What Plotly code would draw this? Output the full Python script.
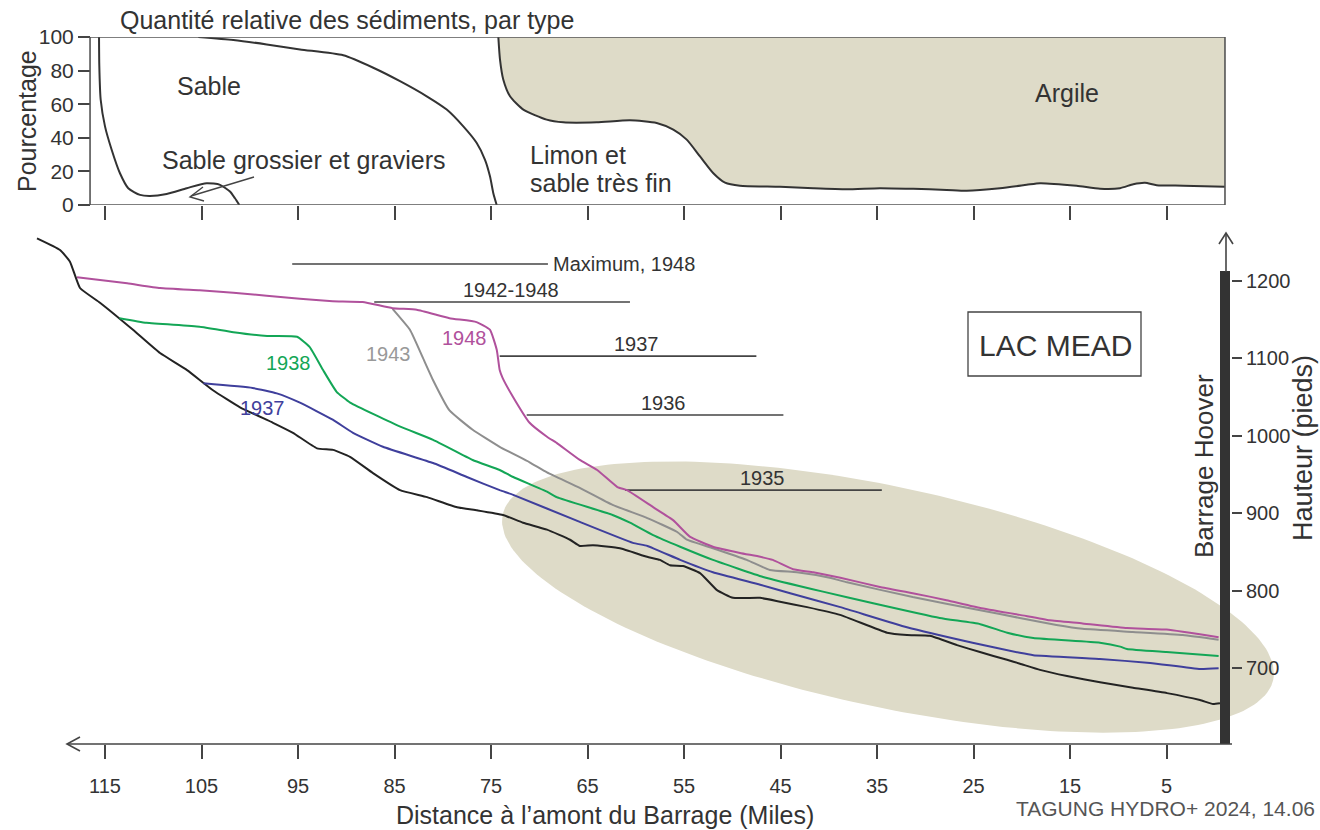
import numpy as np
import plotly.graph_objects as go

W, H = 1320, 830
FONT = "Arial, 'Liberation Sans', Helvetica, sans-serif"
INK = "#333333"
TAN = "#dedbc8"

# ---------------- data: top panel (relative sediment composition, %) ----------------
gravel_mi = [115.62, 115.59, 115.45, 115.0, 114.31, 113.45, 112.59, 111.37, 110.34, 108.61,
             106.53, 104.46, 103.08, 102.05, 101.53, 101.08]
gravel_pct = [100, 82.7, 62.8, 46.8, 32.9, 18.9, 10.0, 6.0, 5.4, 6.6, 10.0, 13.0, 12.0, 8.0, 4.0, 0]

sand_mi = [105.33, 101.70, 98.24, 94.79, 90.31, 87.20, 84.43, 81.66, 79.59, 77.87, 76.48,
           75.62, 75.10, 74.76, 74.41]
sand_pct = [100, 98.2, 95.6, 92.6, 89.1, 81.7, 73.7, 64.7, 56.8, 46.8, 36.9, 26.9, 16.9, 7.0, 0]

clay_mi = [74.24, 74.07, 73.73, 73.03, 71.65, 69.23, 67.51, 64.05, 60.60, 57.83, 56.11, 54.72,
           53.34, 51.96, 50.75, 49.20, 45.05, 41.60, 38.14, 34.69, 31.24, 27.78, 25.70, 22.25,
           19.49, 18.11, 14.31, 11.89, 9.82, 8.44, 7.23, 6.02, 3.26, -1.06]
clay_pct = [100, 86.7, 74.7, 64.7, 56.8, 50.8, 49.2, 49.2, 50.4, 48.8, 44.8, 38.9, 28.9, 18.9,
            13.3, 11.5, 10.9, 10.0, 9.4, 10.0, 9.6, 9.0, 8.5, 10.0, 12.0, 13.0, 11.4, 9.7, 10.0,
            12.4, 13.3, 11.8, 11.5, 10.9]

# ---------------- data: bottom panel (bed profiles, feet vs miles) ----------------
bed1935_mi = [122.05, 119.66, 118.63, 117.59, 115.52, 112.10, 109.30, 106.50, 103.81, 101.01,
              97.59, 95.52, 93.03, 91.37, 89.61, 87.23, 84.43, 81.63, 78.52, 76.45, 73.76, 71.68,
              69.20, 66.81, 65.78, 64.43, 61.63, 58.83, 57.49, 56.45, 55.10, 53.34, 51.58, 49.92,
              47.12, 45.05, 42.25, 38.83, 33.96, 31.89, 29.51, 26.71, 24.33, 21.53, 20.18, 18.11,
              15.31, 11.89, 8.47, 4.95, 1.53, 0.18, -0.54]
bed1935_ft = [1255, 1240, 1225, 1191, 1172, 1137, 1107, 1085, 1059, 1037, 1017, 1004, 984, 982,
              973, 952, 930, 921, 908, 904, 898, 888, 879, 866, 858, 859, 855, 844, 840, 833, 832,
              823, 801, 791, 791, 786, 779, 769, 746, 743, 742, 730, 721, 711, 706, 698, 690, 682,
              675, 668, 659, 654, 655]

bed1937_mi = [104.8, 99.7, 97.2, 94.8, 91.4, 89.3, 86.2, 81.0, 77.5, 74.1, 72.7, 65.8, 60.3,
              58.8, 55.4, 52.0, 47.1, 44.0, 38.8, 31.9, 25.1, 20.2, 18.8, 11.9, 6.7, 1.5, -0.4]
bed1937_ft = [1068, 1062, 1055, 1043, 1021, 1004, 986, 965, 947, 930, 924, 889, 862, 858, 840,
              824, 808, 797, 779, 753, 733, 720, 717, 712, 707, 699, 700]

bed1938_mi = [113.5, 110.7, 105.2, 101.7, 98.2, 95.1, 93.8, 92.4, 91.0, 89.6, 84.4, 81.0, 76.9,
              74.1, 72.7, 69.2, 68.2, 62.4, 60.6, 58.2, 55.4, 52.0, 46.8, 40.6, 35.4, 28.5, 24.3,
              21.5, 18.8, 11.9, 9.8, 9.1, 5.0, -0.4]
bed1938_ft = [1152, 1146, 1141, 1134, 1129, 1128, 1115, 1085, 1057, 1043, 1012, 995, 969, 956,
              947, 928, 921, 898, 888, 872, 857, 840, 818, 799, 784, 765, 757, 746, 739, 733, 728,
              725, 721, 716]

bed1943_mi = [85.2, 83.4, 82.1, 81.0, 79.3, 76.9, 74.1, 71.0, 69.2, 65.8, 62.4, 58.8, 55.7,
              54.7, 52.0, 48.5, 46.1, 43.3, 39.9, 38.1, 31.3, 24.3, 20.2, 16.4, 13.7, 8.5, 3.3, -0.4]
bed1943_ft = [1164, 1137, 1102, 1072, 1033, 1008, 986, 966, 953, 933, 911, 894, 876, 866, 855,
              840, 827, 824, 817, 811, 792, 775, 765, 756, 751, 747, 743, 737]

bed1948_mi = [117.9, 112.7, 109.3, 105.2, 101.7, 94.8, 91.4, 88.3, 85.2, 82.7, 79.3, 76.5, 75.1,
              74.4, 74.1, 73.8, 72.7, 71.0, 69.2, 68.2, 65.8, 64.0, 61.9, 60.9, 58.2, 56.1, 54.4,
              52.0, 49.2, 47.1, 45.8, 43.7, 41.6, 38.8, 34.7, 31.3, 27.8, 24.3, 20.2, 17.1, 13.7,
              9.1, 5.0, -0.4]
bed1948_ft = [1205, 1197, 1191, 1188, 1185, 1177, 1174, 1173, 1165, 1163, 1152, 1147, 1137, 1111,
              1085, 1075, 1050, 1017, 999, 991, 969, 956, 934, 930, 908, 891, 870, 857, 849, 844,
              840, 828, 824, 817, 805, 797, 788, 778, 769, 762, 758, 752, 750, 740]

series_years = ["1935", "1937", "1938", "1943", "1948"]
series_colors = ["#232323", "#3f3f9c", "#13a656", "#8e8e8e", "#b0519c"]
series_mi = [bed1935_mi, bed1937_mi, bed1938_mi, bed1943_mi, bed1948_mi]
series_ft = [bed1935_ft, bed1937_ft, bed1938_ft, bed1943_ft, bed1948_ft]

# year labels on the curves (miles, feet)
year_label_text = ["1937", "1938", "1943", "1948"]
year_label_mi = [98.7, 96.0, 85.6, 77.7]
year_label_ft = [1036, 1094, 1106, 1126]
year_label_color = ["#3f3f9c", "#13a656", "#999999", "#b0519c"]

# reservoir level marks
level_text = ["Maximum, 1948", "1942-1948", "1937", "1936", "1935"]
level_ft = [1222, 1173, 1103, 1027, 930]
level_from_mi = [95.6, 87.1, 74.1, 71.3, 61.1]
level_to_mi = [69.1, 60.6, 47.5, 44.7, 34.5]

mile_ticks = [115, 105, 95, 85, 75, 65, 55, 45, 35, 25, 15, 5]
pct_ticks = [0, 20, 40, 60, 80, 100]
ft_ticks = [700, 800, 900, 1000, 1100, 1200]

# ---------------- layout geometry ----------------
XR = [125.881, -10.907]            # full-width mile axis (reversed)
TOP_DOM = [1 - 205 / H, 1 - 37 / H]
BOT_DOM = [1 - 744 / H, 1 - 232 / H]
Y2R = [602.3, 1263.3]
PANEL_MI = [116.55, -1.06]          # top panel box extent


def px_to_mi(p):
    return XR[0] - p / W * (XR[0] - XR[1])


def mi_to_px(m):
    return (XR[0] - m) / (XR[0] - XR[1]) * W


def ft_to_py(h):
    return 744 - (h - Y2R[0]) / (Y2R[1] - Y2R[0]) * (744 - 232)


def py_to_ft(p):
    return Y2R[0] + (744 - p) / (744 - 232) * (Y2R[1] - Y2R[0])


def P(x, y):
    return f"{x / W:.5f},{1 - y / H:.5f}"


fig = go.Figure()

# ---- top panel ----
fig.add_trace(go.Scatter(
    x=clay_mi + [PANEL_MI[1]], y=clay_pct + [100], mode="lines", fill="toself",
    fillcolor=TAN, line=dict(width=0), xaxis="x", yaxis="y", showlegend=False,
    hoverinfo="skip"))
for xs, ys in [(gravel_mi, gravel_pct), (sand_mi, sand_pct), (clay_mi, clay_pct)]:
    fig.add_trace(go.Scatter(x=xs, y=ys, mode="lines",
                             line=dict(color=INK, width=2, shape="spline", smoothing=0.6),
                             xaxis="x", yaxis="y", showlegend=False))

# ---- bottom panel: tan ellipse ----
cxp, cyp = mi_to_px(33.86), ft_to_py(792)
a_px, b_px, tilt = 394, 110, np.deg2rad(12.1)
t = np.linspace(0, 2 * np.pi, 240)
ex = cxp + a_px * np.cos(t) * np.cos(tilt) - b_px * np.sin(t) * np.sin(tilt)
ey = cyp + a_px * np.cos(t) * np.sin(tilt) + b_px * np.sin(t) * np.cos(tilt)
fig.add_trace(go.Scatter(x=[px_to_mi(v) for v in ex], y=[py_to_ft(v) for v in ey],
                         mode="lines", fill="toself", fillcolor=TAN, line=dict(width=0),
                         xaxis="x2", yaxis="y2", showlegend=False, hoverinfo="skip"))

# level lines
for txt, h, m0, m1 in zip(level_text, level_ft, level_from_mi, level_to_mi):
    fig.add_trace(go.Scatter(x=[m0, m1], y=[h, h], mode="lines",
                             line=dict(color="#444444", width=1.6),
                             xaxis="x2", yaxis="y2", showlegend=False))

# bed profiles
for yr, col, xs, ys in zip(series_years, series_colors, series_mi, series_ft):
    fig.add_trace(go.Scatter(x=xs, y=ys, mode="lines", name=yr,
                             line=dict(color=col, width=2, shape="spline", smoothing=0.4),
                             xaxis="x2", yaxis="y2", showlegend=False))

ann = []
for txt, h, m0, m1 in zip(level_text, level_ft, level_from_mi, level_to_mi):
    if txt.startswith("Maximum"):
        ann.append(dict(x=m1, y=h, xref="x2", yref="y2", text=txt, showarrow=False,
                        xanchor="left", yanchor="middle", xshift=3,
                        font=dict(size=20, color=INK, family=FONT)))
    else:
        ann.append(dict(x=(m0 + m1) / 2 - 0.9, y=h, xref="x2", yref="y2", text=txt,
                        showarrow=False, xanchor="center", yanchor="middle", yshift=12,
                        font=dict(size=20, color=INK, family=FONT)))

for txt, m, h, col in zip(year_label_text, year_label_mi, year_label_ft, year_label_color):
    ann.append(dict(x=m, y=h, xref="x2", yref="y2", text=txt, showarrow=False,
                    xanchor="center", yanchor="middle",
                    font=dict(size=20, color=col, family=FONT)))


def text_px(x, y, s, size, xanchor="center", angle=0, color=INK):
    ann.append(dict(x=x / W, y=1 - y / H, xref="paper", yref="paper", text=s,
                    showarrow=False, xanchor=xanchor, yanchor="middle", textangle=angle,
                    font=dict(size=size, color=color, family=FONT)))


text_px(118, 20, "Quantité relative des sédiments, par type", 25, xanchor="left")
text_px(209, 86, "Sable", 25)
text_px(303, 160, "Sable grossier et graviers", 25)
text_px(528, 155, "Limon et", 25, xanchor="left")
text_px(528, 183, "sable très fin", 25, xanchor="left")
text_px(1067, 93, "Argile", 25)
text_px(27, 121, "Pourcentage", 25, angle=-90)
text_px(1055, 345, "LAC MEAD", 30)
text_px(1204, 466, "Barrage Hoover", 26, angle=-90)
text_px(1303, 448, "Hauteur (pieds)", 27, angle=-90)
text_px(605, 815, "Distance à l’amont du Barrage (Miles)", 25)
text_px(1317, 808, "TAGUNG HYDRO+ 2024, 14.06", 21, xanchor="right", color="#555555")

LINE = dict(color="#444444", width=1.6)
shapes = [
    # top panel frame
    dict(type="rect", xref="x", yref="y", x0=PANEL_MI[0], x1=PANEL_MI[1], y0=0, y1=100,
         line=dict(color="#555555", width=1.6)),
    # Hoover dam bar
    dict(type="rect", xref="x2", yref="y2", x0=px_to_mi(1220), x1=px_to_mi(1230),
         y0=Y2R[0], y1=py_to_ft(271), fillcolor="#333333", line=dict(width=0)),
    # bottom axis with arrow
    dict(type="line", xref="paper", yref="paper", x0=67 / W, x1=1232 / W,
         y0=1 - 744 / H, y1=1 - 744 / H, line=LINE),
    dict(type="path", xref="paper", yref="paper",
         path=f"M{P(80, 737)} L{P(67, 744)} L{P(80, 751)}", line=LINE),
    # vertical arrow above the dam
    dict(type="line", xref="paper", yref="paper", x0=1226 / W, x1=1226 / W,
         y0=1 - 272 / H, y1=1 - 233 / H, line=LINE),
    dict(type="path", xref="paper", yref="paper",
         path=f"M{P(1219, 244)} L{P(1226, 233)} L{P(1233, 244)}", line=LINE),
    # gravel pointer arrow
    dict(type="line", xref="paper", yref="paper", x0=254 / W, x1=191 / W,
         y0=1 - 177 / H, y1=1 - 196 / H, line=dict(color="#444444", width=1.4)),
    dict(type="path", xref="paper", yref="paper",
         path=f"M{P(203, 187)} L{P(190, 197)} L{P(204, 201)}",
         line=dict(color="#444444", width=1.4)),
    # LAC MEAD box
    dict(type="rect", xref="paper", yref="paper", x0=968 / W, x1=1141 / W,
         y0=1 - 376 / H, y1=1 - 312 / H, line=dict(color="#444444", width=1.3)),
]

axis_common = dict(showgrid=False, zeroline=False, showline=False, automargin=False,
                   tickcolor="#444444", tickwidth=1.6)

fig.update_layout(
    template="none",
    width=W, height=H,
    margin=dict(l=0, r=0, t=0, b=0),
    paper_bgcolor="white", plot_bgcolor="rgba(0,0,0,0)",
    showlegend=False,
    font=dict(family=FONT, color=INK),
    xaxis=dict(domain=[0, 1], range=XR, anchor="y", ticks="outside", ticklen=14,
               tickmode="array", tickvals=mile_ticks, showticklabels=False, **axis_common),
    yaxis=dict(domain=TOP_DOM, range=[0, 100], anchor="free", position=90 / W,
               side="left", ticks="outside", ticklen=12, tickmode="array", tickvals=pct_ticks,
               tickfont=dict(size=21, color=INK, family=FONT), **axis_common),
    xaxis2=dict(domain=[0, 1], range=XR, anchor="y2", ticks="outside", ticklen=14,
                tickmode="array", tickvals=mile_ticks, ticklabelstandoff=10,
                tickfont=dict(size=20, color=INK, family=FONT), **axis_common),
    yaxis2=dict(domain=BOT_DOM, range=Y2R, anchor="free", position=1231 / W, side="right",
                ticks="outside", ticklen=10, tickmode="array", tickvals=ft_ticks,
                tickfont=dict(size=20, color=INK, family=FONT), **axis_common),
    shapes=shapes,
    annotations=ann,
)

fig.write_html("out.html")
